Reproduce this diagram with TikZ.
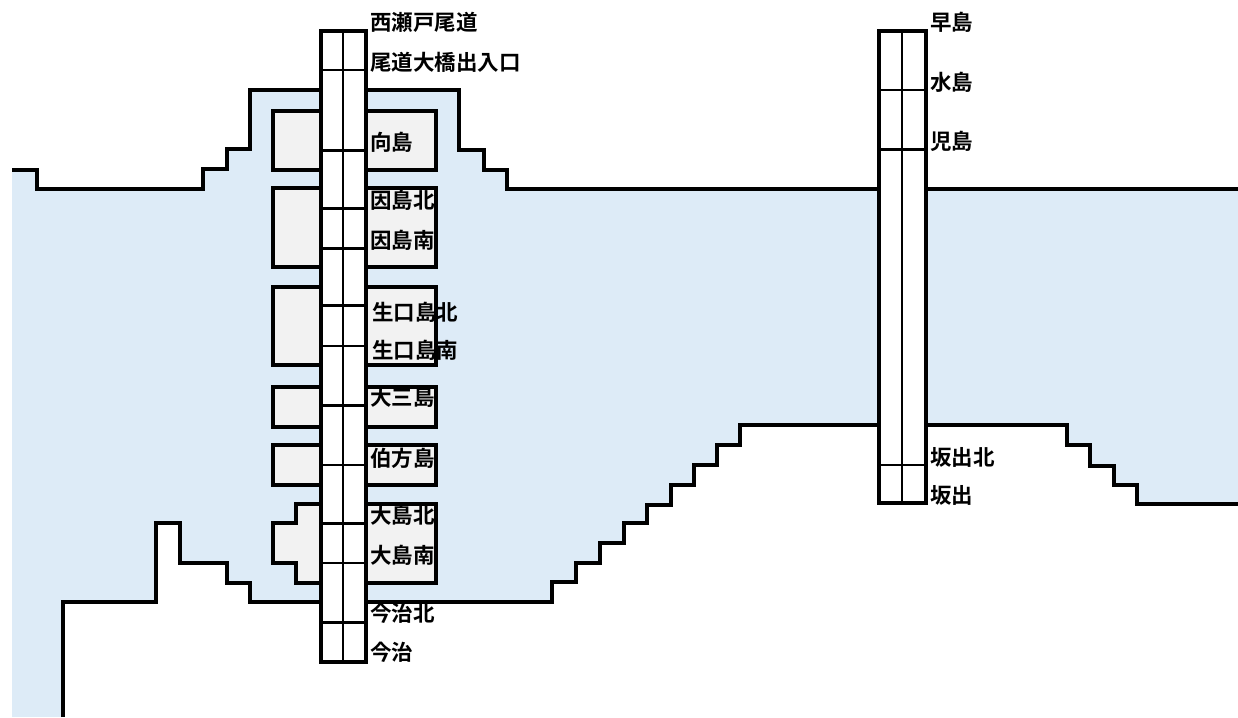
\documentclass[tikz,border=0pt]{standalone}
\usepackage{fontspec}
\newfontfamily\jp{Noto Sans CJK JP}[BoldFont={Noto Sans CJK JP Bold}]
\definecolor{sea}{HTML}{DDEBF7}
\definecolor{isl}{HTML}{F2F2F2}
\begin{document}
\begin{tikzpicture}[x=1pt,y=-1pt,
  coast/.style={line width=3.2pt, line join=miter},
  island/.style={fill=isl, draw=black, line width=3.2pt},
  tower/.style={fill=white, draw=black, line width=3.2pt},
  thickdiv/.style={line width=3pt},
  thindiv/.style={line width=1.8pt},
  lbl/.style={anchor=west, inner sep=0pt, font=\jp\bfseries\fontsize{21.5}{21.5}\selectfont}]
\useasboundingbox (0,0) rectangle (1238,717);
% sea
\fill[sea] (12,85) rectangle (1238,717);
% land (Honshu) above the top coast
\fill[white] (12,0) -- (12,170) -- (37,170) -- (37,189) -- (203,189) -- (203,169) -- (227,169) -- (227,149) -- (250,149) -- (250,90) -- (459,90) -- (459,150) -- (484,150) -- (484,170) -- (507,170) -- (507,189) -- (1238,189) -- (1238,0) -- cycle;
% land (Shikoku) below the bottom coast
\fill[white] (63,717) -- (63,602) -- (156,602) -- (156,523) -- (180,523) -- (180,563) -- (227,563) -- (227,583) -- (250,583) -- (250,602) -- (552,602) -- (552,582) -- (576,582) -- (576,563) -- (600,563) -- (600,543) -- (624,543) -- (624,523) -- (647,523) -- (647,505) -- (671,505) -- (671,485) -- (694,485) -- (694,465) -- (717,465) -- (717,445) -- (740,445) -- (740,425) -- (1067,425) -- (1067,445) -- (1090,445) -- (1090,466) -- (1114,466) -- (1114,485) -- (1137,485) -- (1137,504) -- (1238,504) -- (1238,717) -- cycle;
% coast lines
\draw[coast] (12,170) -- (37,170) -- (37,189) -- (203,189) -- (203,169) -- (227,169) -- (227,149) -- (250,149) -- (250,90) -- (459,90) -- (459,150) -- (484,150) -- (484,170) -- (507,170) -- (507,189) -- (1238,189);
\draw[coast] (63,717) -- (63,602) -- (156,602) -- (156,523) -- (180,523) -- (180,563) -- (227,563) -- (227,583) -- (250,583) -- (250,602) -- (552,602) -- (552,582) -- (576,582) -- (576,563) -- (600,563) -- (600,543) -- (624,543) -- (624,523) -- (647,523) -- (647,505) -- (671,505) -- (671,485) -- (694,485) -- (694,465) -- (717,465) -- (717,445) -- (740,445) -- (740,425) -- (1067,425) -- (1067,445) -- (1090,445) -- (1090,466) -- (1114,466) -- (1114,485) -- (1137,485) -- (1137,504) -- (1238,504);
% islands
\draw[island] (273,111) rectangle (436,170);
\draw[island] (273,188) rectangle (436,267);
\draw[island] (273,287) rectangle (436,365);
\draw[island] (273,387) rectangle (436,427);
\draw[island] (273,445) rectangle (436,485);
\draw[island] (296,504) -- (436,504) -- (436,583) -- (296,583) -- (296,563) -- (273,563) -- (273,523) -- (296,523) -- cycle;
% left tower (Nishiseto expressway)
\draw[tower] (321,31) rectangle (366,662);
\draw[thindiv] (343,31) -- (343,662);
\foreach \yy in {70,346,465,563} \draw[thindiv] (321,\yy) -- (366,\yy);
\foreach \yy in {150,208,248,305,405,523,622} \draw[thickdiv] (321,\yy) -- (366,\yy);
% right tower (Seto-Chuo expressway)
\draw[tower] (879,31) rectangle (926,503);
\draw[thindiv] (902,31) -- (902,503);
\foreach \yy in {90,465} \draw[thindiv] (879,\yy) -- (926,\yy);
\draw[thickdiv] (879,149) -- (926,149);
% labels
\node[lbl] (l1) at (370,22) {西瀬戸尾道};
\node[lbl] (l2) at (370,62) {尾道大橋出入口};
\node[lbl] (l3) at (370,142) {向島};
\node[lbl] (l4) at (370,200) {因島北};
\node[lbl] (l5) at (370,240) {因島南};
\node[lbl] (l6) at (372,312) {生口島北};
\node[lbl] (l7) at (372,350) {生口島南};
\node[lbl] (l8) at (370,397) {大三島};
\node[lbl] (l9) at (370,458) {伯方島};
\node[lbl] (l10) at (370,515) {大島北};
\node[lbl] (l11) at (370,555) {大島南};
\node[lbl] (l12) at (370,613) {今治北};
\node[lbl] (l13) at (370,652) {今治};
\node[lbl] (r1) at (930,22) {早島};
\node[lbl] (r2) at (930,82) {水島};
\node[lbl] (r3) at (930,141) {児島};
\node[lbl] (r4) at (930,457) {坂出北};
\node[lbl] (r5) at (930,495) {坂出};
\end{tikzpicture}
\end{document}
